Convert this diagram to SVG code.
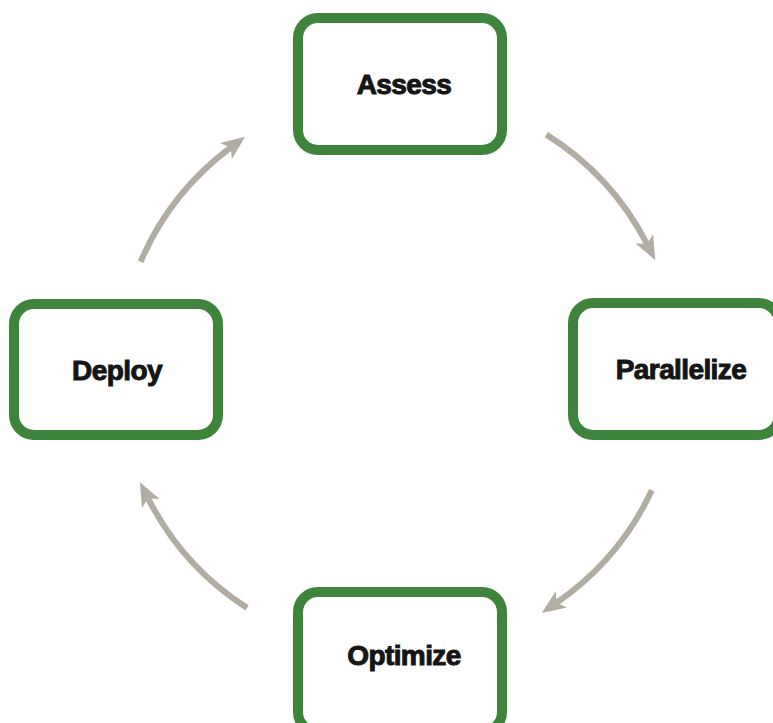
<svg xmlns="http://www.w3.org/2000/svg" width="773" height="723" viewBox="0 0 773 723">
<style>
.box{fill:#ffffff;stroke:#3e843a;stroke-width:10}
.lbl{font-family:"Liberation Sans",Arial,sans-serif;font-weight:bold;font-size:28px;fill:#151515;stroke:#151515;stroke-width:1;text-anchor:middle;letter-spacing:-0.6px}
.arr{fill:none;stroke:#b2ada3;stroke-width:6;marker-end:url(#ah)}
</style>
<defs>
<marker id="ah" viewBox="0 0 24 20" refX="6" refY="10" markerWidth="24" markerHeight="20" markerUnits="userSpaceOnUse" orient="auto">
<path d="M0,0 L24,10 L0,20 L6,10 Z" fill="#b2ada3"/>
</marker>
</defs>
<rect width="773" height="723" fill="#ffffff"/>
<g id="connectors">
<path class="arr" d="M546.4,134.6 A280,280 0 0 1 647,244"/>
<path class="arr" d="M651.8,490.3 A280,280 0 0 1 556.6,602.7"/>
<path class="arr" d="M247.1,607.9 A280,280 0 0 1 148.1,498.3"/>
<path class="arr" d="M140.6,261.7 A280,280 0 0 1 230.7,147.5"/>
</g>
<g id="assess">
<rect class="box" x="298" y="18" width="204" height="132" rx="20"/>
<text class="lbl" x="404" y="94">Assess</text>
</g>
<g id="parallelize">
<rect class="box" x="573" y="303" width="206" height="132" rx="20"/>
<text class="lbl" x="681" y="379">Parallelize</text>
</g>
<g id="deploy">
<rect class="box" x="14" y="304" width="204" height="131" rx="20"/>
<text class="lbl" x="117" y="380">Deploy</text>
</g>
<g id="optimize">
<rect class="box" x="298" y="592" width="204" height="140" rx="20"/>
<text class="lbl" x="404" y="665">Optimize</text>
</g>
</svg>
